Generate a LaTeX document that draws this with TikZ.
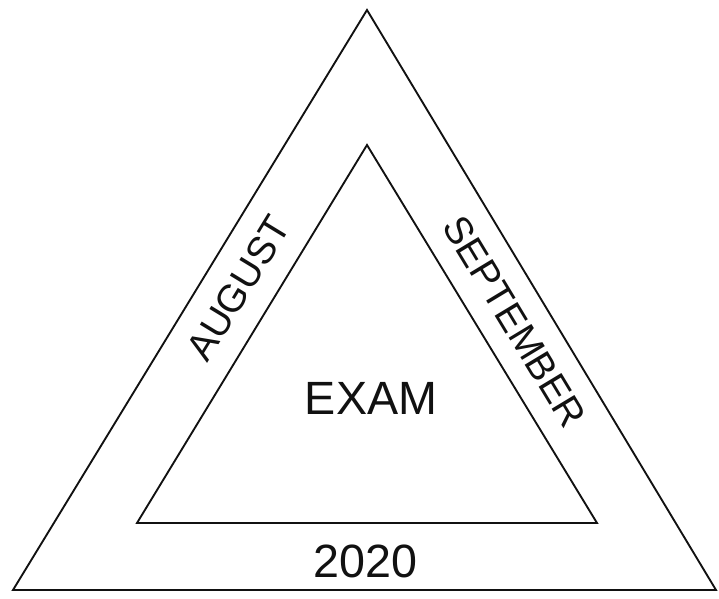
\documentclass[tikz,border=0pt]{standalone}
\usepackage{fontspec}
\setmainfont{Liberation Sans}
\usetikzlibrary{calc,positioning}
\definecolor{exInk}{HTML}{111111}
\tikzset{
  ex canvas/.style={fill=white},
  ex edge/.style={draw=exInk, line width=1.4pt, line join=miter},
  ex band label/.style={font=\fontsize{29}{34}\selectfont, text=exInk, inner sep=0pt},
  ex title/.style={font=\fontsize{35}{40}\selectfont, text=exInk, inner sep=0pt}
}

\begin{document}
\begin{tikzpicture}[x=0.75pt,y=0.75pt]
  \path[ex canvas] (0,0) rectangle (719,599);
  \useasboundingbox (0,0) rectangle (719,599);
  % outer triangle
  \coordinate (OL) at (13,9);
  \coordinate (OR) at (716,9);
  \coordinate (OT) at (367,589);
  % inner triangle
  \coordinate (IL) at (137,76);
  \coordinate (IR) at (597,76);
  \coordinate (IT) at (367,454);
  % band middle lines
  \coordinate (ML) at ($(OL)!.5!(IL)$);
  \coordinate (MR) at ($(OR)!.5!(IR)$);
  \coordinate (MT) at ($(OT)!.5!(IT)$);

  \draw[ex edge] (OL) -- (OT) -- (OR) -- cycle;
  \draw[ex edge] (IL) -- (IT) -- (IR) -- cycle;

  \path (ML) -- (MT) node[ex band label, pos=.56, sloped] (aug) {AUGUST};
  \path (MT) -- (MR) node[ex band label, pos=.51, sloped] (sep) {SEPTEMBER};
  \path (ML) -- (MR) node[ex title, midway, yshift=-4] (year) {2020};
  \node[ex title] (exam) at (371,201) {EXAM};
\end{tikzpicture}
\end{document}
